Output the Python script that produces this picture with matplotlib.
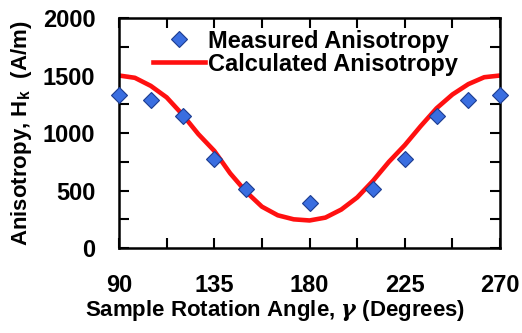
import numpy as np
import matplotlib.pyplot as plt
from matplotlib.ticker import MultipleLocator

plt.rcParams['font.family'] = ['Liberation Sans', 'DejaVu Sans']
plt.rcParams['font.weight'] = 'bold'
plt.rcParams['mathtext.fontset'] = 'custom'
plt.rcParams['mathtext.rm'] = 'Liberation Sans:bold'
plt.rcParams['mathtext.bf'] = 'Liberation Sans:bold'
plt.rcParams['mathtext.it'] = 'DejaVu Serif:italic'

# measured points (diamonds)
meas_angle = [90, 105, 120, 135, 150, 180, 210, 225, 240, 255, 270]
meas_hk = [1330, 1290, 1145, 775, 510, 395, 510, 775, 1145, 1290, 1330]

# calculated curve
calc_angle = [90, 97.5, 105, 112.5, 120, 127.5, 135, 142.5, 150, 157.5, 165,
              172.5, 180, 187.5, 195, 202.5, 210, 217.5, 225, 232.5, 240,
              247.5, 255, 262.5, 270]
calc_hk = [1500, 1480, 1410, 1310, 1160, 990, 845, 650, 490, 360, 285,
           250, 240, 265, 335, 440, 585, 750, 895, 1060, 1215,
           1335, 1425, 1485, 1500]

fig = plt.figure(figsize=(5.22, 3.33), dpi=100)
ax = fig.add_axes([0.228, 0.255, 0.730, 0.691])

ax.plot(calc_angle, calc_hk, color='#ff1010', lw=3.3, label='Calculated Anisotropy',
        zorder=2)
ax.plot(meas_angle, meas_hk, ls='none', marker='D', ms=8.5,
        mfc='#3a6ee0', mec='#1c3c90', mew=0.8, label='Measured Anisotropy',
        zorder=3, clip_on=False)

ax.set_xlim(90, 270)
ax.set_ylim(0, 2000)
ax.xaxis.set_major_locator(MultipleLocator(45))
ax.xaxis.set_minor_locator(MultipleLocator(22.5))
ax.yaxis.set_major_locator(MultipleLocator(500))
ax.yaxis.set_minor_locator(MultipleLocator(250))
ax.tick_params(which='both', direction='in', top=True, right=True,
               length=7, width=1.5)
ax.tick_params(axis='x', which='major', pad=19, labelsize=17)
ax.tick_params(axis='y', which='major', pad=17, labelsize=17)
for s in ax.spines.values():
    s.set_linewidth(1.8)

ax.set_xlabel(r'Sample Rotation Angle, $\it{\gamma}$ (Degrees)', fontsize=16,
              fontweight='bold', labelpad=1)
ax.xaxis.set_label_coords(0.41, -0.215)
ax.set_ylabel(r'Anisotropy, H$_\mathbf{k}$  (A/m)', fontsize=16,
              fontweight='bold', labelpad=6)

h, l = ax.get_legend_handles_labels()
ax.legend(h[::-1], l[::-1], loc='upper left', bbox_to_anchor=(0.07, 0.98),
          frameon=False, fontsize=17, handlelength=2.2, handletextpad=0.15,
          labelspacing=0.0, borderpad=0.3, borderaxespad=0.0)

fig.savefig('out.png', dpi=100)
